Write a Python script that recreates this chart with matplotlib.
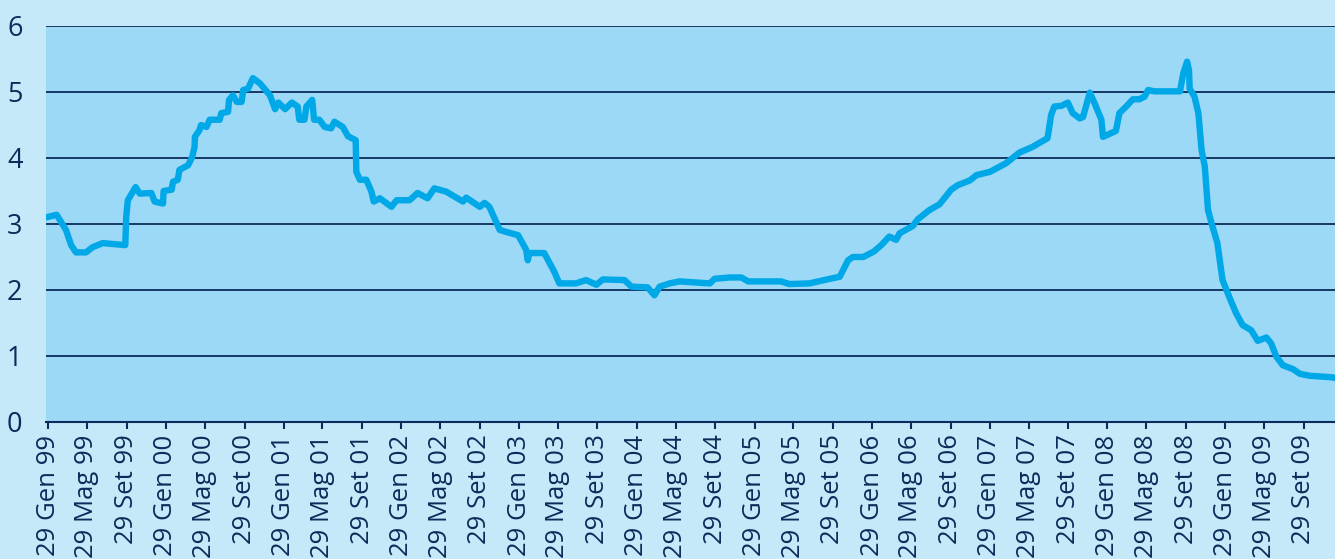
import matplotlib
matplotlib.use("Agg")
import matplotlib.pyplot as plt
import pandas as pd

# ---- data (3-month rate, %) ----
dates = [
    "1999-01-22", "1999-02-24", "1999-03-25", "1999-04-10", "1999-04-25", "1999-05-26",
    "1999-06-16", "1999-07-17", "1999-09-25", "1999-09-28", "1999-10-03", "1999-10-27",
    "1999-11-09", "1999-12-15", "1999-12-25", "2000-01-20", "2000-01-22", "2000-02-16",
    "2000-02-20", "2000-03-06", "2000-03-11", "2000-04-07", "2000-04-20", "2000-04-27",
    "2000-04-28", "2000-05-12", "2000-05-17", "2000-06-03", "2000-06-13", "2000-07-14",
    "2000-07-19", "2000-08-09", "2000-08-12", "2000-08-24", "2000-09-05", "2000-09-20",
    "2000-09-25", "2000-10-10", "2000-10-25", "2000-11-16", "2000-12-17", "2001-01-02",
    "2001-01-12", "2001-02-02", "2001-02-23", "2001-03-13", "2001-03-18", "2001-04-03",
    "2001-04-09", "2001-04-27", "2001-05-03", "2001-05-19", "2001-06-05", "2001-06-25",
    "2001-07-05", "2001-07-31", "2001-08-16", "2001-09-09", "2001-09-11", "2001-09-22",
    "2001-10-12", "2001-10-28", "2001-11-04", "2001-11-23", "2001-12-29", "2002-01-14",
    "2002-02-23", "2002-03-20", "2002-04-20", "2002-05-11", "2002-06-17", "2002-08-08",
    "2002-08-18", "2002-09-29", "2002-10-14", "2002-10-29", "2002-11-30", "2002-12-20",
    "2003-01-26", "2003-02-20", "2003-02-25", "2003-03-02", "2003-04-17", "2003-05-18",
    "2003-06-03", "2003-07-24", "2003-08-25", "2003-09-26", "2003-10-16", "2003-12-22",
    "2004-01-13", "2004-03-03", "2004-03-24", "2004-04-09", "2004-05-10", "2004-06-10",
    "2004-09-12", "2004-09-27", "2004-11-13", "2004-12-19", "2005-01-09", "2005-04-21",
    "2005-05-17", "2005-07-18", "2005-09-29", "2005-10-20", "2005-11-15", "2005-11-30",
    "2006-01-01", "2006-02-02", "2006-02-26", "2006-03-23", "2006-04-13", "2006-04-24",
    "2006-06-04", "2006-06-19", "2006-07-25", "2006-08-26", "2006-10-01", "2006-10-22",
    "2006-11-28", "2006-12-18", "2007-01-29", "2007-03-20", "2007-04-30", "2007-06-11",
    "2007-07-27", "2007-08-07", "2007-08-17", "2007-09-08", "2007-09-28", "2007-10-13",
    "2007-11-04", "2007-11-14", "2007-12-05", "2007-12-20", "2008-01-10", "2008-01-15",
    "2008-02-24", "2008-03-06", "2008-03-27", "2008-04-17", "2008-05-07", "2008-05-23",
    "2008-06-03", "2008-06-23", "2008-09-10", "2008-09-20", "2008-10-02", "2008-10-08",
    "2008-10-10", "2008-10-25", "2008-11-06", "2008-11-16", "2008-11-26", "2008-12-06",
    "2008-12-17", "2009-01-04", "2009-01-20", "2009-02-12", "2009-03-03", "2009-03-23",
    "2009-04-19", "2009-05-09", "2009-06-05", "2009-06-20", "2009-07-06", "2009-07-26",
    "2009-08-27", "2009-09-17", "2009-10-18", "2009-12-19", "2010-01-04",
]
rates = [
    3.10, 3.14, 2.91, 2.68, 2.57, 2.57,
    2.65, 2.71, 2.68, 3.11, 3.36, 3.56,
    3.46, 3.47, 3.34, 3.31, 3.50, 3.52,
    3.64, 3.67, 3.82, 3.89, 4.02, 4.17,
    4.32, 4.42, 4.50, 4.47, 4.58, 4.58,
    4.68, 4.70, 4.88, 4.95, 4.85, 4.85,
    5.03, 5.05, 5.21, 5.13, 4.95, 4.74,
    4.84, 4.74, 4.84, 4.78, 4.58, 4.58,
    4.78, 4.88, 4.58, 4.58, 4.47, 4.45,
    4.55, 4.47, 4.33, 4.27, 3.79, 3.67,
    3.67, 3.49, 3.34, 3.39, 3.26, 3.36,
    3.36, 3.47, 3.39, 3.54, 3.49, 3.34,
    3.40, 3.26, 3.32, 3.26, 2.91, 2.88,
    2.83, 2.61, 2.45, 2.56, 2.56, 2.28,
    2.10, 2.10, 2.15, 2.08, 2.16, 2.15,
    2.05, 2.04, 1.92, 2.05, 2.10, 2.13,
    2.10, 2.17, 2.19, 2.19, 2.13, 2.13,
    2.09, 2.10, 2.18, 2.20, 2.45, 2.50,
    2.50, 2.58, 2.68, 2.81, 2.76, 2.86,
    2.97, 3.07, 3.21, 3.30, 3.52, 3.59,
    3.66, 3.74, 3.79, 3.92, 4.08, 4.17,
    4.30, 4.65, 4.78, 4.79, 4.84, 4.68,
    4.60, 4.62, 4.99, 4.83, 4.58, 4.32,
    4.41, 4.68, 4.78, 4.89, 4.89, 4.93,
    5.03, 5.01, 5.01, 5.28, 5.46, 5.33,
    5.05, 4.93, 4.68, 4.12, 3.87, 3.21,
    3.01, 2.71, 2.15, 1.87, 1.65, 1.47,
    1.39, 1.23, 1.28, 1.19, 0.99, 0.86,
    0.80, 0.73, 0.70, 0.68, 0.67,
]
tick_years = list(range(1999, 2010))
tick_months = [(1, "Gen"), (5, "Mag"), (9, "Set")]
y_ticks = [0, 1, 2, 3, 4, 5, 6]

# ---- styling ----
NAVY = "#0B2C5A"
plt.rcParams["font.family"] = ["Open Sans", "DejaVu Sans"]

x = pd.to_datetime(dates)

fig = plt.figure(figsize=(13.35, 5.59), dpi=100, facecolor="#C6E9F9")
W, H = 1335, 559
ax = fig.add_axes([46 / W, 1 - 422 / H, 1 - 46 / W, (422 - 26) / H])
ax.set_facecolor("#9BD9F6")

ax.set_ylim(0, 6)
ax.set_yticks(y_ticks)
ax.yaxis.grid(True, color=NAVY, lw=1.3)
ax.set_axisbelow(True)

ax.plot(x, rates, color="#00A8E8", lw=4.6, solid_joinstyle="round",
        solid_capstyle="round", zorder=3)

ax.set_xlim(x[0], x[-1])
tick_pos = []
tick_lab = []
for yr in tick_years:
    for m, name in tick_months:
        if yr == 2009 and m > 9:
            continue
        tick_pos.append(pd.Timestamp(year=yr, month=m, day=29))
        tick_lab.append(f"29 {name} {yr % 100:02d}")
ax.set_xticks(tick_pos)
ax.set_xticklabels(tick_lab, rotation=90, va="top", ha="center")

for s in ["left", "right", "top"]:
    ax.spines[s].set_visible(False)
ax.spines["bottom"].set_color(NAVY)
ax.spines["bottom"].set_linewidth(1.5)

ax.tick_params(axis="y", length=0, pad=17, labelsize=19.5, labelcolor=NAVY)
ax.tick_params(axis="x", length=5, width=1.5, color=NAVY, pad=4,
               labelsize=18.5, labelcolor=NAVY)

fig.savefig("out.png", dpi=100, facecolor=fig.get_facecolor())
